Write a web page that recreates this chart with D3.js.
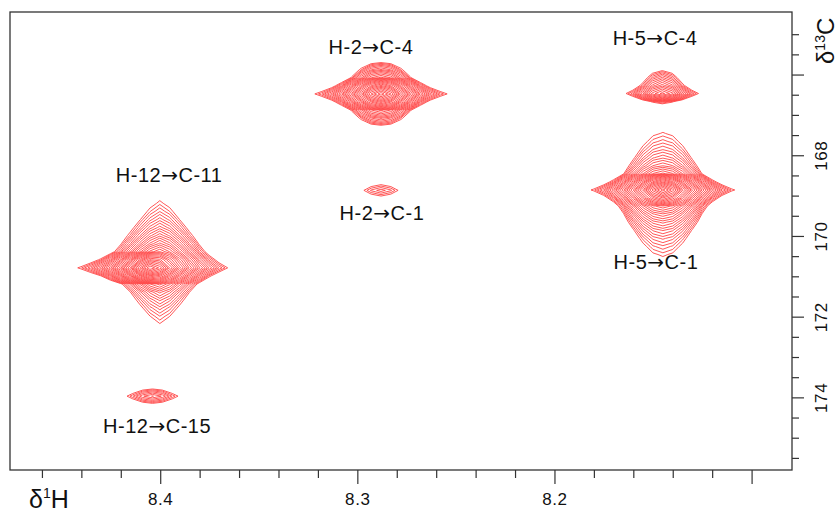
<!DOCTYPE html>
<html>
<head>
<meta charset="utf-8">
<script src="https://cdn.jsdelivr.net/npm/d3@7"></script>
<style>
  body { margin: 0; background: #fff; }
  text { font-family: "Liberation Sans", Arial, sans-serif; fill: #111; }
</style>
</head>
<body>
<svg id="chart" width="838" height="513"></svg>
<script>
// HMBC cross peaks (ppm); each peak = a tall "lobe" + a thin horizontal "band"
let peakNames  = ["H-2→C-4", "H-5→C-4", "H-2→C-1", "H-5→C-1", "H-12→C-11", "H-12→C-15"];
let lobeH      = [8.288, 8.1453, 8.288, 8.145, 8.4001, 8.4039];
let lobeC      = [166.48, 166.2, 168.87, 168.97, 170.65, 173.97];
let lobeAmp    = [6, 2.0, 0, 10.6, 10.6, 0];
let lobeWidthH = [0.013, 0.0097, 0.01, 0.0152, 0.0135, 0.01];
let lobeShapeH = [2, 2, 2, 2, 1.5, 2];          // exponent of the F2 line shape
let lobeWidthC = [0.575, 0.357, 0.3, 0.495, 0.49, 0.3];
let lobeLorC   = [0, 0, 0, 1, 1, 0];             // lorentzian share of the F1 line shape
let bandH      = [8.288, 8.1453, 8.288, 8.145, 8.4052, 8.4039];
let bandC      = [166.48, 166.47, 168.87, 168.86, 170.79, 173.97];
let bandAmp    = [20, 4, 1.5, 30, 30, 2];
let bandWidthH = [0.0076, 0.0101, 0.0122, 0.0066, 0.0066, 0.0127];
let bandWidthC = [0.20, 0.17, 0.25, 0.2, 0.2, 0.22];

// annotations
let labelText = ["H-2→C-4", "H-5→C-4", "H-12→C-11", "H-2→C-1", "H-5→C-1", "H-12→C-15"];
let labelH    = [8.2931, 8.149, 8.3955, 8.2875, 8.1485, 8.4016];
let labelC    = [165.49, 165.27, 168.66, 169.6, 170.82, 174.88];

// axes
let xDomain = [8.4762, 8.0795];
let yDomain = [164.45, 175.8];
let xMajor = [8.4, 8.3, 8.2, 8.1];
let xMinor = [8.46, 8.44, 8.42, 8.38, 8.36, 8.34, 8.32, 8.28, 8.26, 8.24, 8.22, 8.18, 8.16, 8.14, 8.12];
let xLabels = [8.4, 8.3, 8.2];
let yMajor = [166, 168, 170, 172, 174];
let yMinor = [165, 165.5, 166.5, 167, 167.5, 168.5, 169, 169.5, 170.5, 171, 171.5, 172.5, 173, 173.5, 174.5, 175, 175.5];
let yLabels = [168, 170, 172, 174];

let margin = { left: 10, right: 46, top: 12, bottom: 43 };
let width = 838, height = 513;

let svg = d3.select("#chart");
let x = d3.scaleLinear().domain(xDomain).range([margin.left, width - margin.right]);
let y = d3.scaleLinear().domain(yDomain).range([margin.top, height - margin.bottom]);

svg.append("clipPath").attr("id", "clip")
  .append("rect")
  .attr("x", margin.left).attr("y", margin.top)
  .attr("width", width - margin.left - margin.right)
  .attr("height", height - margin.top - margin.bottom);

let plot = svg.append("g").attr("clip-path", "url(#clip)");

// coarse digitisation of the spectrum
let stepH = 0.005, stepC = 0.2;
let nxh = 10, nyh = 10;
let nx = 2 * nxh + 1, ny = 2 * nyh + 1;
let levels = d3.range(40).map(k => Math.pow(1.12, k));

let intensity = (p, h, c) => {
  let w = (c - lobeC[p]) / lobeWidthC[p];
  let fy = lobeLorC[p] / (1 + w * w) + (1 - lobeLorC[p]) * Math.exp(-w * w);
  let lobe = lobeAmp[p] * Math.exp(-Math.pow(Math.abs(h - lobeH[p]) / lobeWidthH[p], lobeShapeH[p])) * fy;
  let band = bandAmp[p] / (1 + ((h - bandH[p]) / bandWidthH[p]) ** 2) *
    Math.exp(-(((c - bandC[p]) / bandWidthC[p]) ** 2));
  return lobe + band;
};

peakNames.forEach((name, p) => {
  let h0 = bandH[p], c0 = bandC[p];
  let values = new Array(nx * ny);
  for (let j = 0; j < ny; j++) {
    for (let i = 0; i < nx; i++) {
      values[j * nx + i] = intensity(p, h0 + (nxh - i) * stepH, c0 + (j - nyh) * stepC);
    }
  }
  let contours = d3.contours().size([nx, ny]).thresholds(levels)(values);
  let project = d3.geoTransform({
    point: function (gx, gy) {
      this.stream.point(x(h0 + (nxh - (gx - 0.5)) * stepH), y(c0 + (gy - 0.5 - nyh) * stepC));
    }
  });
  plot.append("g")
    .attr("class", "peak")
    .selectAll("path")
    .data(contours.filter(d => d.coordinates.length))
    .join("path")
    .attr("d", d3.geoPath(project))
    .attr("fill", "none")
    .attr("stroke", "#ff4545")
    .attr("stroke-width", 0.9);
});

// frame
svg.append("rect")
  .attr("x", margin.left).attr("y", margin.top)
  .attr("width", width - margin.left - margin.right)
  .attr("height", height - margin.top - margin.bottom)
  .attr("fill", "none")
  .attr("stroke", "#333")
  .attr("stroke-width", 1.3);

let bottom = height - margin.bottom;
let right = width - margin.right;

let xMinorAxis = svg.append("g").attr("transform", "translate(0," + bottom + ")")
  .call(d3.axisBottom(x).tickValues(xMinor).tickSize(8).tickFormat(""));
let xMajorAxis = svg.append("g").attr("transform", "translate(0," + bottom + ")")
  .call(d3.axisBottom(x).tickValues(xMajor).tickSize(14)
    .tickFormat(d => xLabels.includes(d) ? d3.format(".1f")(d) : ""));
xMajorAxis.selectAll("text").attr("dy", "1.05em")
  .style("font-size", "17px").style("letter-spacing", "0.6px");

let yMinorAxis = svg.append("g").attr("transform", "translate(" + right + ",0)")
  .call(d3.axisRight(y).tickValues(yMinor).tickSize(7).tickFormat(""));
let yMajorAxis = svg.append("g").attr("transform", "translate(" + right + ",0)")
  .call(d3.axisRight(y).tickValues(yMajor).tickSize(12)
    .tickFormat(d => yLabels.includes(d) ? d : ""));
yMajorAxis.selectAll("text")
  .attr("x", 0).attr("dy", 0)
  .attr("text-anchor", "middle")
  .attr("transform", "translate(35,0) rotate(-90)")
  .style("font-size", "17px").style("letter-spacing", "0.6px");

[xMinorAxis, xMajorAxis, yMinorAxis, yMajorAxis].forEach(a => {
  a.select(".domain").remove();
  a.selectAll(".tick line").attr("stroke", "#333").attr("stroke-width", 1.2);
});

// axis titles
let xTitle = svg.append("text").attr("x", 29).attr("y", 508).style("font-size", "25px");
xTitle.append("tspan").text("δ");
xTitle.append("tspan").text("1").attr("dy", -10).style("font-size", "14px");
xTitle.append("tspan").text("H").attr("dy", 10);

let yTitle = svg.append("text").attr("transform", "translate(834,64) rotate(-90)").style("font-size", "24px");
yTitle.append("tspan").text("δ");
yTitle.append("tspan").text("13").attr("dy", -9).style("font-size", "14px");
yTitle.append("tspan").text("C").attr("dy", 9);

// peak labels (arrow from DejaVu, which has a full-width one)
let labels = svg.append("g").selectAll("text")
  .data(labelText)
  .join("text")
  .attr("x", (d, i) => x(labelH[i]))
  .attr("y", (d, i) => y(labelC[i]))
  .attr("text-anchor", "middle")
  .style("font-size", "20px")
  .style("letter-spacing", "0.5px");
labels.append("tspan").text(d => d.split("→")[0]);
labels.append("tspan").text("→").style("font-family", "'DejaVu Sans'");
labels.append("tspan").text(d => d.split("→")[1]);
</script>
</body>
</html>
